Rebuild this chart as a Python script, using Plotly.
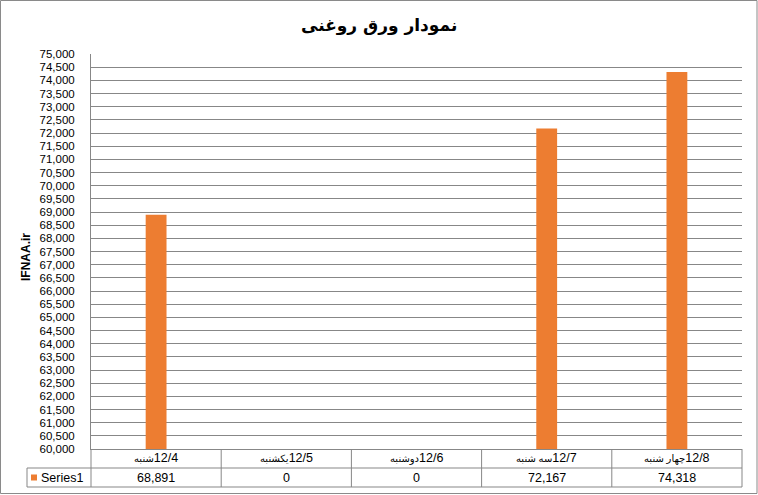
import plotly.graph_objects as go

# ---- data ----
days = ["شنبه", "یکشنبه", "دوشنبه", "سه شنبه", "چهار شنبه"]
dates = ["12/4", "12/5", "12/6", "12/7", "12/8"]
values = [68891, 0, 0, 72167, 74318]
series_name = "Series1"
title_text = "نمودار ورق روغنی"
y_title = "IFNAA.ir"
y_min, y_max, y_step = 60000, 75000, 500

# ---- geometry (pixels) ----
WIDTH, HEIGHT = 758, 495
L, R, T, B = 91, 742, 54, 449
PW, PH = R - L, B - T
ROW1, ROW2 = 468, 487
KEY_LEFT = 27

def px(x):
    return (x - L) / PW

def py(y):
    return (B - y) / PH

GRID = "#878787"
BAR = "#ED7D31"
FONT = "Liberation Sans, Arial, DejaVu Sans"
LRM = "\u200e"

cats = [f"{d}-{i}" for i, d in enumerate(dates)]

fig = go.Figure()
fig.add_trace(go.Bar(x=cats, y=values, marker_color=BAR, marker_line_width=0,
                     name=series_name, showlegend=False, hoverinfo="skip"))

tickvals = list(range(y_min, y_max + 1, y_step))
fig.update_layout(
    width=WIDTH, height=HEIGHT,
    margin=dict(l=L, r=WIDTH - R, t=T, b=HEIGHT - B, pad=0),
    paper_bgcolor="white", plot_bgcolor="white",
    bargap=0.84,
    font=dict(family=FONT, size=12, color="black"),
    xaxis=dict(showticklabels=False, showgrid=False, showline=True,
               linecolor=GRID, linewidth=1, ticks="", zeroline=False),
    yaxis=dict(range=[y_min, y_max], tickvals=tickvals, tickformat=",",
               showgrid=True, gridcolor=GRID, gridwidth=1, showline=True,
               linecolor=GRID, linewidth=1, ticks="", zeroline=False,
               ticklabelstandoff=13,
               tickfont=dict(family=FONT, size=11.5, color="black")),
)

shapes = []
anns = []
# outer border
shapes.append(dict(type="rect", xref="paper", yref="paper",
                   x0=px(0.5), x1=px(757), y0=py(0.5), y1=py(493.5),
                   line=dict(color="#8a8a8a", width=1), fillcolor="rgba(0,0,0,0)"))
# table horizontal lines
for yy in (ROW1, ROW2):
    shapes.append(dict(type="line", xref="paper", yref="paper",
                       x0=px(KEY_LEFT), x1=px(R), y0=py(yy), y1=py(yy),
                       line=dict(color=GRID, width=1)))
# key cell left line
shapes.append(dict(type="line", xref="paper", yref="paper",
                   x0=px(KEY_LEFT), x1=px(KEY_LEFT), y0=py(ROW1), y1=py(ROW2),
                   line=dict(color=GRID, width=1)))
# column lines
n = len(cats)
for k in range(n + 1):
    shapes.append(dict(type="line", xref="paper", yref="paper",
                       x0=k / n, x1=k / n, y0=py(B), y1=py(ROW2),
                       line=dict(color=GRID, width=1)))
# legend key square
shapes.append(dict(type="rect", xref="paper", yref="paper",
                   x0=px(31), x1=px(37), y0=py(474.5), y1=py(480.5),
                   line=dict(width=0), fillcolor=BAR))

# category labels & values
for c, d, dt, v in zip(cats, days, dates, values):
    label = f"<span style='font-size:10px'>{d}</span>{LRM}{dt}"
    anns.append(dict(x=c, xref="x", y=py((B + ROW1) / 2), yref="paper",
                     text=label, showarrow=False, xanchor="center", yanchor="middle",
                     font=dict(family=FONT, size=12.5, color="black")))
    anns.append(dict(x=c, xref="x", y=py((ROW1 + ROW2) / 2), yref="paper",
                     text=f"{v:,}", showarrow=False, xanchor="center", yanchor="middle",
                     font=dict(family=FONT, size=12.5, color="black")))
# series name
anns.append(dict(x=px(39), xref="paper", y=py((ROW1 + ROW2) / 2), yref="paper",
                 text=series_name, showarrow=False, xanchor="left", yanchor="middle",
                 font=dict(family=FONT, size=12.5, color="black")))
# title
anns.append(dict(x=px(379), xref="paper", y=py(25), yref="paper",
                 text=f"<b>{title_text}</b>", showarrow=False, xanchor="center",
                 yanchor="middle", font=dict(family="DejaVu Sans", size=17, color="black")))
# y title
anns.append(dict(x=px(26), xref="paper", y=py(257), yref="paper",
                 text=f"<b>{y_title}</b>", showarrow=False, textangle=-90,
                 xanchor="center", yanchor="middle",
                 font=dict(family=FONT, size=12, color="black")))

fig.update_layout(shapes=shapes, annotations=anns)
fig.write_html("out.html", config={"displayModeBar": False},
               post_script="document.body.style.margin='0px';document.body.style.padding='0px';")
